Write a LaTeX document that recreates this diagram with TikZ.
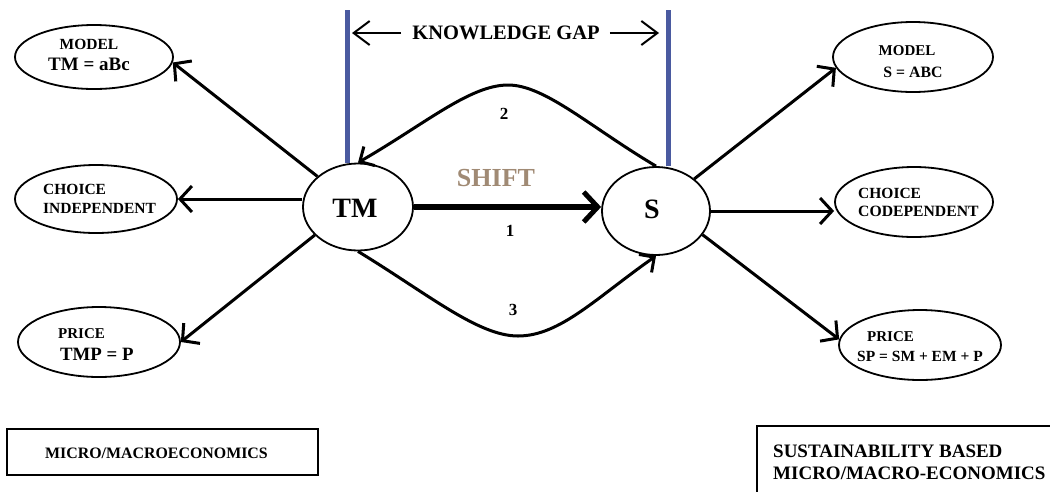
\documentclass[tikz,border=0pt]{standalone}
\usepackage{fontspec}
\setmainfont{Liberation Serif}
\usetikzlibrary{arrows.meta,shapes.geometric}
\definecolor{gapblue}{HTML}{4A5AA0}
\definecolor{shiftbrown}{HTML}{A08A74}
\newcommand\myfs[1]{\fontsize{#1}{#1}\selectfont}
\begin{document}
\begin{tikzpicture}[x=1pt,y=-1pt,font=\bfseries,
  ell/.style={ellipse, draw, line width=1.8pt, inner sep=0pt},
  lnk/.style={line width=3pt, -{Straight Barb[length=12pt,width=26pt,line width=3pt]}},
  curvlnk/.style={line width=3pt, -{Straight Barb[length=11pt,width=22pt,line width=3pt]}},
  shiftlnk/.style={line width=6.5pt, -{Straight Barb[length=14pt,width=30pt,line width=5pt]}},
  gaplnk/.style={line width=2pt, -{Straight Barb[length=16pt,width=24pt,line width=2pt]}},
  gapline/.style={line width=5pt, draw=gapblue},
  txt/.style={inner sep=0pt},
  box/.style={draw, line width=1.8pt, inner sep=0pt}
]
\useasboundingbox (0,0) rectangle (1050,491);
\clip (0,0) rectangle (1050,491);

% central nodes
\node[ell, minimum width=110, minimum height=87] (TM) at (358,207) {};
\node[ell, minimum width=108, minimum height=88] (S) at (656,211) {};
\node[txt] (TMt) at (355,208) {\myfs{28}TM};
\node[txt] (St) at (652,209) {\myfs{28}S};

% left ellipses
\node[ell, minimum width=158, minimum height=64] (mTM) at (94,57) {};
\node[ell, minimum width=162, minimum height=68] (cI) at (96,199) {};
\node[ell, minimum width=162, minimum height=70] (pTM) at (99,342) {};
\node[txt] (mTMa) at (89,44) {\myfs{15.5}MODEL};
\node[txt] (mTMb) at (89,64) {\myfs{19}TM = aBc};
\node[txt, anchor=west] (cIa) at (43,189) {\myfs{15.5}CHOICE};
\node[txt, anchor=west] (cIb) at (43,208) {\myfs{15.5}INDEPENDENT};
\node[txt, anchor=west] (pTMa) at (58,334) {\myfs{15}PRICE};
\node[txt, anchor=west] (pTMb) at (60,354) {\myfs{18.8}TMP = P};

% right ellipses
\node[ell, minimum width=160, minimum height=70] (mS) at (913,57) {};
\node[ell, minimum width=158, minimum height=70] (cS) at (914,202) {};
\node[ell, minimum width=162, minimum height=70] (pS) at (920,345) {};
\node[txt] (mSa) at (907,51) {\myfs{15}MODEL};
\node[txt] (mSb) at (913,72) {\myfs{15.8}S = ABC};
\node[txt, anchor=west] (cSa) at (858,193) {\myfs{15.5}CHOICE};
\node[txt, anchor=west] (cSb) at (858,211) {\myfs{15.7}CODEPENDENT};
\node[txt, anchor=west] (pSa) at (867,337) {\myfs{15}PRICE};
\node[txt, anchor=west] (pSb) at (857,356) {\myfs{15.5}SP = SM + EM + P};

% knowledge gap
\coordinate (bl) at (347,10);
\coordinate (br) at (668,10);
\draw[gapline] (bl) -- (bl |- TM.north);
\draw[gapline] (br) -- (br |- S.north);
\node[txt] (KG) at (506,33) {\myfs{20.5}KNOWLEDGE GAP};
\draw[gaplnk, shorten <=11pt, shorten >=5pt] (KG.west) -- (bl |- KG.west);
\draw[gaplnk, shorten <=10pt, shorten >=9pt] (KG.east) -- (br |- KG.east);

% shift arrows
\node[txt, text=shiftbrown] (SH) at (496,178) {\myfs{26}SHIFT};
\draw[shiftlnk] (TM.east) -- (TM.east -| S.west);
\node[txt] (n1) at (510,231) {\myfs{17}1};
\coordinate (top2) at (508,85);
\coordinate (bot3) at (518,336);
\draw[curvlnk] (S.north) .. controls (590,127) and (545,85) .. (top2)
  .. controls (470,85) and (425,124) .. (TM.north);
\node[txt] (n2) at (504,114) {\myfs{17}2};
\draw[curvlnk] (TM.south) .. controls (428,294) and (478,336) .. (bot3)
  .. controls (560,336) and (596,298) .. (S.south);
\node[txt] (n3) at (513,310) {\myfs{17}3};

% spokes
\draw[lnk] (TM.143) -- (mTM.-4);
\draw[lnk] (cI.east -| TM.west) -- (cI.east);
\draw[lnk] (TM.213) -- (pTM.east);
\draw[lnk] (S.40) -- (mS.188);
\draw[lnk] (S.east) -- (S.east -| cS.west);
\draw[lnk] (S.-27) -- (pS.176);

% bottom boxes
\node[box, minimum width=311, minimum height=46] (lb) at (162.5,452) {};
\node[txt, anchor=west] (lbt) at (45,453) {\myfs{15.9}MICRO/MACROECONOMICS};
\node[box, anchor=north west, minimum width=320, minimum height=80] (rb) at (756,425) {};
\node[txt, anchor=west] (rbt1) at (773,451) {\myfs{19}SUSTAINABILITY BASED};
\node[txt, anchor=west] (rbt2) at (773,473) {\myfs{19}MICRO/MACRO-ECONOMICS};
\end{tikzpicture}
\end{document}
